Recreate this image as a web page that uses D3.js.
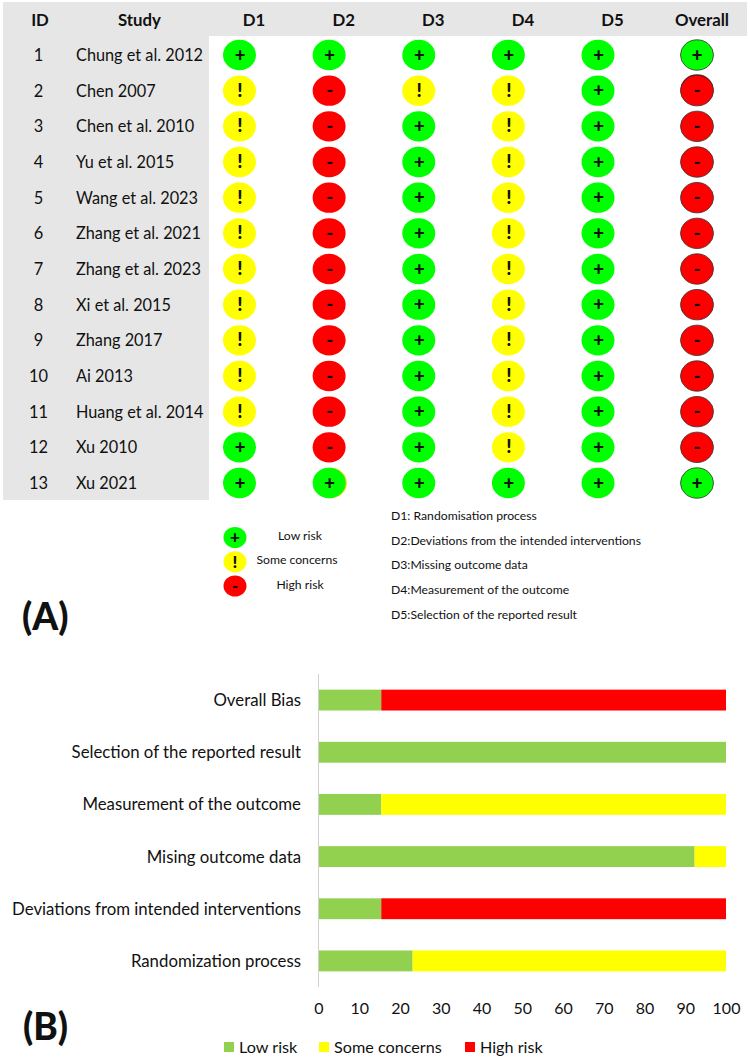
<!DOCTYPE html>
<html><head><meta charset="utf-8">
<script src="https://cdn.jsdelivr.net/npm/d3@7/dist/d3.min.js"></script>
<style>html,body{margin:0;padding:0;background:#fff}svg{display:block}text{font-family:Lato,"Open Sans",sans-serif;fill:#111}</style>
</head><body><svg id="c" width="750" height="1059"></svg>
<script>
const ids=["1","2","3","4","5","6","7","8","9","10","11","12","13"];
const studies=["Chung et al. 2012","Chen 2007","Chen et al. 2010","Yu et al. 2015","Wang et al. 2023","Zhang et al. 2021","Zhang et al. 2023","Xi et al. 2015","Zhang 2017","Ai 2013","Huang et al. 2014","Xu 2010","Xu 2021"];
const domains=["D1","D2","D3","D4","D5","Overall"];
const D1=["+","!","!","!","!","!","!","!","!","!","!","+","+"];
const D2=["+","-","-","-","-","-","-","-","-","-","-","-","+"];
const D3=["+","!","+","+","+","+","+","+","+","+","+","+","+"];
const D4=["+","!","!","!","!","!","!","!","!","!","!","!","+"];
const D5=["+","+","+","+","+","+","+","+","+","+","+","+","+"];
const Overall=["+","-","-","-","-","-","-","-","-","-","-","-","+"];
const judgments=[D1,D2,D3,D4,D5,Overall];
const riskKeys=["+","!","-"];
const riskNames=["Low risk","Some concerns","High risk"];
const riskColors=["#00ff00","#ffff00","#ff0000"];
const domainNotes=["D1: Randomisation process","D2:Deviations from the intended interventions","D3:Missing outcome data","D4:Measurement of the outcome","D5:Selection of the reported result"];
const barCats=["Overall Bias","Selection of the reported result","Measurement of the outcome","Mising outcome data","Deviations from intended interventions","Randomization process"];
const lowVals=[15.4,100,15.4,92.3,15.4,23.1];
const someVals=[0,0,84.6,7.7,0,76.9];
const highVals=[84.6,0,0,0,84.6,0];
const barSeries=["Low risk","Some concerns","High risk"];
const barColors=["#92d050","#ffff00","#ff0000"];
const ticks=[0,10,20,30,40,50,60,70,80,90,100];

const svg=d3.select("#c");
const color=d3.scaleOrdinal(riskKeys,riskColors);
const y=d3.scalePoint(ids,[55,483]);
const x=d3.scalePoint(domains.slice(0,5),[239.5,598]);
const cx=d=>d==="Overall"?697:x(d);

svg.append("rect").attr("x",3).attr("y",2).attr("width",744).attr("height",34).attr("fill","#e6e6e6");
svg.append("rect").attr("x",3).attr("y",2).attr("width",206).attr("height",498).attr("fill","#e6e6e6");

const hdr=svg.append("g").attr("font-weight",700).attr("font-size",16.8).attr("text-anchor","middle");
hdr.append("text").attr("x",40).attr("y",25.5).text("ID");
hdr.append("text").attr("x",139.5).attr("y",25.5).text("Study");
hdr.selectAll(".d").data(domains).join("text").attr("class","d")
  .attr("x",d=>d==="Overall"?702:cx(d)+14.5).attr("y",25.5).text(d=>d);

svg.append("g").attr("font-size",16.4).attr("text-anchor","middle").selectAll("text").data(ids).join("text")
  .attr("x",38.5).attr("y",d=>y(d)+6).text(d=>d);
svg.append("g").attr("font-size",16.3).selectAll("text").data(studies).join("text")
  .attr("x",76).attr("y",(d,i)=>y(ids[i])+6).text(d=>d);

const cells=domains.flatMap((dom,j)=>judgments[j].map((v,i)=>({dom,id:ids[i],v})));
const cg=svg.append("g").selectAll("g").data(cells).join("g")
  .attr("transform",d=>`translate(${cx(d.dom)},${y(d.id)})`);
// mis-registered shapes visible behind two cells of the reference
cg.filter(d=>d.dom==="D2"&&d.id==="13").append("ellipse").attr("cx",1.2).attr("rx",16.5).attr("ry",15.2).attr("fill","#e8d800");
cg.filter(d=>d.dom==="Overall"&&d.id==="2").append("ellipse").attr("cy",-1.2).attr("rx",16.5).attr("ry",15.2).attr("fill","#8a1010");
cg.append("ellipse").attr("rx",16.5).attr("ry",15.2).attr("fill",d=>color(d.v))
  .attr("stroke",d=>d.dom==="Overall"?"#333":"none").attr("stroke-width",.8);
cg.append("text").attr("text-anchor","middle").attr("font-weight",900).attr("font-size",18.5)
  .attr("x",d=>d.dom==="Overall"?0:.5)
  .attr("y",d=>d.v==="!"?6:6.8).attr("fill","#000").text(d=>d.v);

const ly=d3.scalePoint(riskKeys,[537.5,586]);
const lg=svg.append("g").selectAll("g").data(riskKeys).join("g").attr("transform",d=>`translate(235,${ly(d)})`);
lg.append("ellipse").attr("rx",11.5).attr("ry",10.5).attr("fill",d=>color(d));
lg.append("text").attr("text-anchor","middle").attr("font-weight",900).attr("font-size",17).attr("y",5.8).attr("fill","#000").text(d=>d);
svg.append("g").attr("font-size",12.2).attr("text-anchor","middle").selectAll("text").data(riskNames).join("text")
  .attr("x",(d,i)=>i===1?297:300).attr("y",(d,i)=>ly(riskKeys[i])+2.5).text(d=>d);

const ny=d3.scalePoint(domainNotes,[516,614.5]);
svg.append("g").attr("font-size",12.2).selectAll("text").data(domainNotes).join("text")
  .attr("x",391).attr("y",d=>ny(d)+4).text(d=>d);

svg.append("text").attr("x",22).attr("y",630).attr("font-weight",900).attr("font-size",37).text("(A)");
svg.append("text").attr("x",23).attr("y",1040).attr("font-weight",900).attr("font-size",37).text("(B)");

const bx=d3.scaleLinear([0,100],[318.5,726]);
const by=d3.scaleBand(barCats,[674,987]).paddingInner(0.6).paddingOuter(0.3);
const stack=d3.stack().keys(barSeries)(barCats.map((c,i)=>({c,"Low risk":lowVals[i],"Some concerns":someVals[i],"High risk":highVals[i]})));
svg.append("g").selectAll("g").data(stack).join("g").attr("fill",(s,i)=>barColors[i])
  .selectAll("rect").data(s=>s).join("rect")
  .attr("x",d=>bx(d[0])).attr("width",d=>bx(d[1])-bx(d[0]))
  .attr("y",d=>by(d.data.c)).attr("height",by.bandwidth());

svg.append("line").attr("x1",318.5).attr("x2",318.5).attr("y1",674).attr("y2",987).attr("stroke","#d0d0d0");

svg.append("g").attr("font-size",16.8).attr("text-anchor","end").selectAll("text").data(barCats).join("text")
  .attr("x",301).attr("y",d=>by(d)+by.bandwidth()/2+6).text(d=>d);

const axis=svg.append("g").attr("transform","translate(0,987)").call(d3.axisBottom(bx).tickValues(ticks).tickSize(0).tickPadding(16));
axis.select(".domain").remove();
axis.selectAll("text").attr("font-family","Lato,sans-serif").attr("font-size",16).attr("fill","#111");

const lx=[224,319,465];
const bl=svg.append("g").selectAll("g").data(barSeries).join("g").attr("transform",(d,i)=>`translate(${lx[i]},1042)`);
bl.append("rect").attr("width",10).attr("height",10).attr("fill",(d,i)=>barColors[i]);
bl.append("text").attr("x",15).attr("y",11).attr("font-size",16.2).text(d=>d);
</script></body></html>
